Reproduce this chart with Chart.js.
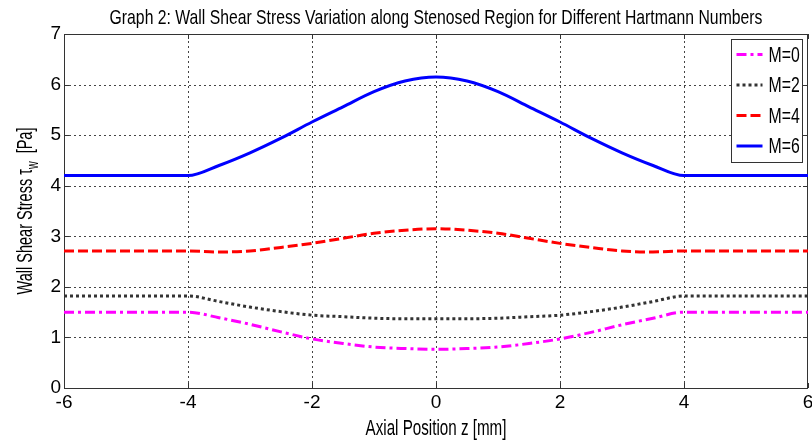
<!DOCTYPE html>
<html><head><meta charset="utf-8">
<script src="https://cdn.jsdelivr.net/npm/chart.js@4.4.1/dist/chart.umd.min.js"></script>
<style>html,body{margin:0;padding:0;background:#fff}#wrap{width:812px;height:443px;position:relative}</style>
</head><body><div id="wrap"><canvas id="c"></canvas></div>
<script>
const FONT = "'Liberation Sans','Arimo','DejaVu Sans',sans-serif";

const chartTitle = 'Graph 2: Wall Shear Stress Variation along Stenosed Region for Different Hartmann Numbers';
const xAxisTitle = 'Axial Position z [mm]';
const yAxisTitleMain = 'Wall Shear Stress τ';
const yAxisTitleSub = 'w';
const yAxisTitleUnit = '[Pa]';

const axialZ = [-6, -4, -3.5, -3, -2.5, -2, -1.5, -1, -0.5, 0, 0.5, 1, 1.5, 2, 2.5, 3, 3.5, 4, 6];
const seriesLabels = ['M=0', 'M=2', 'M=4', 'M=6'];
const tauM0 = [1.50, 1.50, 1.39, 1.26, 1.11, 0.97, 0.88, 0.81, 0.78, 0.765, 0.78, 0.81, 0.88, 0.97, 1.10, 1.25, 1.38, 1.50, 1.50];
const tauM2 = [1.82, 1.82, 1.71, 1.60, 1.51, 1.44, 1.41, 1.38, 1.37, 1.37, 1.37, 1.38, 1.41, 1.44, 1.51, 1.60, 1.71, 1.82, 1.82];
const tauM4 = [2.71, 2.71, 2.69, 2.71, 2.78, 2.86, 2.96, 3.06, 3.12, 3.15, 3.12, 3.06, 2.96, 2.86, 2.78, 2.71, 2.69, 2.71, 2.71];
const tauM6 = [4.20, 4.20, 4.40, 4.65, 4.94, 5.26, 5.56, 5.86, 6.07, 6.15, 6.07, 5.86, 5.56, 5.26, 4.94, 4.65, 4.40, 4.20, 4.20];
const xTickLabels = ['-6', '-4', '-2', '0', '2', '4', '6'];
const yTickLabels = ['0', '1', '2', '3', '4', '5', '6', '7'];

const seriesValues = [tauM0, tauM2, tauM4, tauM6];
const seriesColors = ['#ff00ff', '#333333', '#ff0000', '#0000ff'];
const seriesDashes = [[10, 4, 3, 4], [3, 3], [10, 4], []];

const datasets = seriesLabels.map((lab, i) => ({
  label: lab,
  data: axialZ.map((z, k) => ({x: z, y: seriesValues[i][k]})),
  borderColor: seriesColors[i],
  backgroundColor: seriesColors[i],
  borderDash: seriesDashes[i],
  borderWidth: 3,
  borderCapStyle: 'butt',
  pointRadius: 0,
  cubicInterpolationMode: 'monotone',
  fill: false
}));

function condText(ctx, text, x, y, size, sx, align) {
  ctx.save();
  ctx.font = size + 'px ' + FONT;
  const w = ctx.measureText(text).width * sx;
  let x0 = x;
  if (align === 'center') x0 = x - w / 2;
  else if (align === 'right') x0 = x - w;
  ctx.translate(x0, y);
  ctx.scale(sx, 1);
  ctx.textAlign = 'left';
  ctx.fillText(text, 0, 0);
  ctx.restore();
  return w;
}

const framePlugin = {
  id: 'frame',
  beforeDatasetsDraw(chart) {
    const {ctx, chartArea: a, scales} = chart;
    ctx.save();
    ctx.strokeStyle = '#444';
    ctx.lineWidth = 1;
    ctx.setLineDash([2, 3]);
    ctx.beginPath();
    scales.x.ticks.forEach(t => {
      const px = Math.round(scales.x.getPixelForValue(t.value)) + 0.5;
      if (px < a.left + 2 || px > a.right - 2) return;
      ctx.moveTo(px, a.bottom); ctx.lineTo(px, a.top);
    });
    scales.y.ticks.forEach(t => {
      const py = Math.round(scales.y.getPixelForValue(t.value)) + 0.5;
      if (py < a.top + 2 || py > a.bottom - 2) return;
      ctx.moveTo(a.left, py); ctx.lineTo(a.right, py);
    });
    ctx.stroke();
    ctx.strokeStyle = '#333';
    ctx.setLineDash([]);
    ctx.beginPath();
    const L = 5;
    scales.x.ticks.forEach(t => {
      const px = Math.round(scales.x.getPixelForValue(t.value)) + 0.5;
      ctx.moveTo(px, a.bottom); ctx.lineTo(px, a.bottom - L);
      ctx.moveTo(px, a.top); ctx.lineTo(px, a.top + L);
    });
    scales.y.ticks.forEach(t => {
      const py = Math.round(scales.y.getPixelForValue(t.value)) + 0.5;
      ctx.moveTo(a.left, py); ctx.lineTo(a.left + L, py);
      ctx.moveTo(a.right, py); ctx.lineTo(a.right - L, py);
    });
    ctx.stroke();
    ctx.strokeRect(Math.round(a.left) + 0.5, Math.round(a.top) + 0.5, Math.round(a.right - a.left) - 1, Math.round(a.bottom - a.top));
    ctx.restore();
  },
  afterDraw(chart) {
    const {ctx, chartArea: a} = chart;
    ctx.save();
    ctx.fillStyle = '#000';
    ctx.textBaseline = 'alphabetic';
    condText(ctx, chartTitle, (a.left + a.right) / 2, 24, 21, 0.75, 'center');
    condText(ctx, xAxisTitle, (a.left + a.right) / 2, 435, 22, 0.69, 'center');
    ctx.restore();

    ctx.save();
    ctx.fillStyle = '#000';
    ctx.textBaseline = 'alphabetic';
    const cy = (a.top + a.bottom) / 2;
    ctx.translate(32, cy);
    ctx.rotate(-Math.PI / 2);
    const sx = 0.66;
    ctx.font = '22px ' + FONT;
    const w1 = ctx.measureText(yAxisTitleMain).width * sx;
    const w3 = ctx.measureText('  ' + yAxisTitleUnit).width * sx;
    ctx.font = '16px ' + FONT;
    const w2 = ctx.measureText(yAxisTitleSub).width * sx;
    let x = -(w1 + w2 + w3) / 2;
    condText(ctx, yAxisTitleMain, x, 0, 22, sx, 'left'); x += w1;
    condText(ctx, yAxisTitleSub, x, 6, 16, sx, 'left'); x += w2;
    condText(ctx, '  ' + yAxisTitleUnit, x, 0, 22, sx, 'left');
    ctx.restore();

    ctx.save();
    const bx = Math.round(a.right) - 76.5, by = Math.round(a.top) + 5.5, bw = 71, bh = 123;
    ctx.fillStyle = '#fff';
    ctx.fillRect(bx, by, bw, bh);
    ctx.strokeStyle = '#333';
    ctx.lineWidth = 1;
    ctx.setLineDash([]);
    ctx.strokeRect(bx, by, bw, bh);
    chart.data.datasets.forEach((ds, i) => {
      const ry = by + 15 + i * 30.5;
      ctx.save();
      ctx.strokeStyle = ds.borderColor;
      ctx.lineWidth = 3;
      ctx.lineCap = 'butt';
      ctx.setLineDash(ds.borderDash);
      ctx.beginPath();
      ctx.moveTo(bx + 5, ry); ctx.lineTo(bx + 31, ry);
      ctx.stroke();
      ctx.restore();
      ctx.fillStyle = '#000';
      ctx.textBaseline = 'middle';
      condText(ctx, ds.label, bx + 37, ry + 1, 22, 0.72, 'left');
    });
    ctx.restore();
  }
};

new Chart(document.getElementById('c'), {
  type: 'line',
  data: {datasets},
  options: {
    responsive: true,
    maintainAspectRatio: false,
    animation: false,
    layout: {padding: {left: 0, right: 4, top: 34, bottom: 0}},
    plugins: {
      legend: {display: false},
      tooltip: {enabled: false},
      title: {display: false}
    },
    scales: {
      x: {
        type: 'linear',
        min: -6, max: 6,
        afterFit(s) { s.height = 55; s.paddingLeft = 0; s.paddingRight = 0; },
        afterBuildTicks(s) { s.ticks = xTickLabels.map(v => ({value: Number(v)})); },
        ticks: {
          callback: (v) => xTickLabels[xTickLabels.indexOf(String(v))] ?? String(v),
          color: '#000', padding: 3, maxRotation: 0, autoSkip: false,
          font: {family: FONT, size: 19}
        },
        grid: {drawOnChartArea: false, drawTicks: false},
        border: {display: false}
      },
      y: {
        type: 'linear',
        min: 0, max: 7,
        afterFit(s) { s.width = 64; s.paddingTop = 0; s.paddingBottom = 0; },
        afterBuildTicks(s) { s.ticks = yTickLabels.map(v => ({value: Number(v)})); },
        ticks: {
          callback: (v) => yTickLabels[yTickLabels.indexOf(String(v))] ?? String(v),
          color: '#000', padding: 3, autoSkip: false,
          font: {family: FONT, size: 19}
        },
        grid: {drawOnChartArea: false, drawTicks: false},
        border: {display: false}
      }
    }
  },
  plugins: [framePlugin]
});
</script>
</body></html>
